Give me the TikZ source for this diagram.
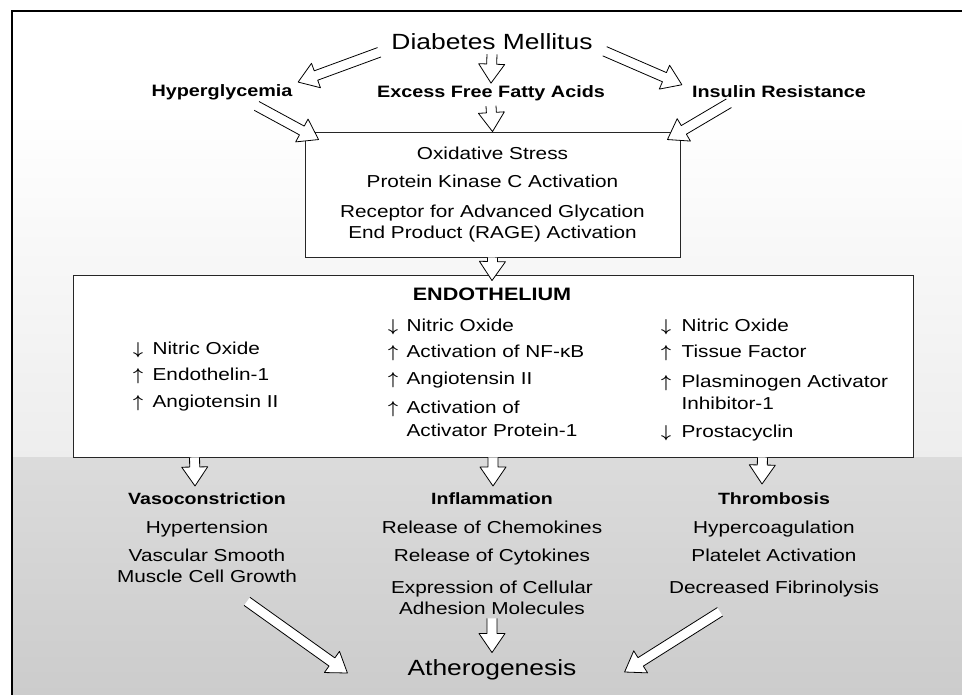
\documentclass[tikz,border=0pt]{standalone}
\usepackage{fontspec}
\setmainfont{Liberation Sans}[FakeStretch=1.2]
\usetikzlibrary{calc}

\newcommand{\arrdims}{
\def\shaftw{5pt}     % half width of the shaft
\def\headw{13pt}     % half width of the head
\def\headl{19pt}     % length of the head
}
\newcommand{\hollowarrow}[2]{
  \arrdims
  \path (#1) coordinate (ha-s) (#2) coordinate (ha-e);
  \path ($(ha-e)!\headl!(ha-s)$) coordinate (ha-m);
  \filldraw[harrow] ($(ha-s)!\shaftw!90:(ha-e)$) -- ($(ha-m)!\shaftw!-90:(ha-s)$)
    -- ($(ha-m)!\headw!-90:(ha-s)$) -- (ha-e) -- ($(ha-m)!\headw!90:(ha-s)$)
    -- ($(ha-m)!\shaftw!90:(ha-s)$) -- ($(ha-s)!\shaftw!-90:(ha-e)$);
}
\newcommand{\up}{{\boldmath$\uparrow$}}
\newcommand{\dn}{{\boldmath$\downarrow$}}

\begin{document}
\begin{tikzpicture}[x=1pt,y=-1pt,
  box/.style={draw=black!85, line width=0.9pt, fill=white, inner sep=0pt},
  harrow/.style={draw=black, fill=white, line width=0.8pt, line join=round},
  big/.style={font=\fontsize{22}{26}\selectfont, inner sep=1pt},
  cause/.style={font=\bfseries\fontsize{16.5}{20}\selectfont, inner sep=1pt},
  txt/.style={font=\fontsize{17.3}{21}\selectfont, inner sep=0pt},
  col/.style={txt, anchor=base west},
  result/.style={txt, align=center, anchor=north}]
  \useasboundingbox (0,0) rectangle (962,695);
  % background of the scan
  \shade[top color=white, bottom color=gray!14] (12,110) rectangle (962,457);
  \shade[top color=gray!28, bottom color=gray!40] (12,457) rectangle (962,695);
  \draw[line width=1.6pt] (12,695) -- (12,11) -- (962,11);

  \node[big] (dm) at (492,42) {Diabetes Mellitus};
  \node[cause] (hyper) at (222,92) {Hyperglycemia};
  \node[cause] (ffa) at (491,93) {Excess Free Fatty Acids};
  \node[cause] (ins) at (779,92) {Insulin Resistance};

  \node[box, txt, align=center, minimum width=375pt, minimum height=125pt] (stress) at (492.5,194.5)
    {Oxidative Stress\\[7pt] Protein Kinase C Activation\\[9pt]
     Receptor for Advanced Glycation\\ End Product (RAGE) Activation};

  \node[box, minimum width=840pt, minimum height=182pt] (endo) at (493,366) {};
  \node[font=\bfseries\fontsize{18}{21}\selectfont, inner sep=0pt] (endotitle) at (492,294) {ENDOTHELIUM};
  \node[col] (vasocol) at (133,354) {\begin{tabular}[t]{@{}c@{\hspace{9.5pt}}l@{}}
    \dn & Nitric Oxide\\[6pt]
    \up & Endothelin-1\\[6pt]
    \up & Angiotensin II\end{tabular}};
  \node[col] (inflcol) at (388,331) {\begin{tabular}[t]{@{}c@{\hspace{8.5pt}}l@{}}
    \dn & Nitric Oxide\\[6pt]
    \up & Activation of NF-κB\\[5pt]
    \up & Angiotensin II\\[8pt]
    \up & Activation of\\[2pt]
     & Activator Protein-1\end{tabular}};
  \node[col] (thrcol) at (661,331) {\begin{tabular}[t]{@{}c@{\hspace{10.5pt}}l@{}}
    \dn & Nitric Oxide\\[6pt]
    \up & Tissue Factor\\[9pt]
    \up & Plasminogen Activator\\
     & Inhibitor-1\\[8pt]
    \dn & Prostacyclin\end{tabular}};

  \node[result] (vaso) at (207,492) {{\bfseries\fontsize{16.3}{21}\selectfont Vasoconstriction}\\[8pt]
    Hypertension\\[7pt] Vascular Smooth\\ Muscle Cell Growth};
  \node[result] (infl) at (492,492) {{\bfseries\fontsize{16.3}{21}\selectfont Inflammation}\\[8pt]
    Release of Chemokines\\[7pt] Release of Cytokines\\[11pt]
    Expression of Cellular\\ Adhesion Molecules};
  \node[result] (thromb) at (774,492) {{\bfseries\fontsize{16.3}{21}\selectfont Thrombosis}\\[8pt]
    Hypercoagulation\\[7pt] Platelet Activation\\[11pt] Decreased Fibrinolysis};
  \node[big] (ath) at (492,670) {Atherogenesis};

  % hollow arrows
  \hollowarrow{$(dm.south west)+(-11,1)$}{$(hyper.north east)+(4.5,-1)$}
  \hollowarrow{$(dm.south)+(0,3)$}{$(ffa.north)+(0,-1)$}
  \hollowarrow{$(dm.south east)+(11,0)$}{$(ins.north west)+(-9,0)$}
  \hollowarrow{$(hyper.south east)+(-37,5)$}{$(stress.north west)+(14,8)$}
  \hollowarrow{$(ffa.south)+(0,4)$}{stress.north}
  \hollowarrow{$(ins.south west)+(38,4)$}{$(stress.north east)+(-13,8)$}
  \hollowarrow{stress.south}{$(endo.north)+(-1,6)$}
  \hollowarrow{$(endo.south west)+(122,0)$}{$(vaso.north)+(-12,-6)$}
  \hollowarrow{endo.south}{$(infl.north)+(1,-6)$}
  \hollowarrow{$(endo.south east)+(-151,0)$}{$(thromb.north)+(-12,-8)$}
  \hollowarrow{$(vaso.south)+(40,19)$}{$(ath.west)+(-59,3)$}
  \hollowarrow{$(infl.south)+(0,4)$}{$(ath.north)+(0,-6)$}
  \hollowarrow{$(thromb.south)+(-54,15)$}{$(ath.east)+(47,2)$}
\end{tikzpicture}
\end{document}
